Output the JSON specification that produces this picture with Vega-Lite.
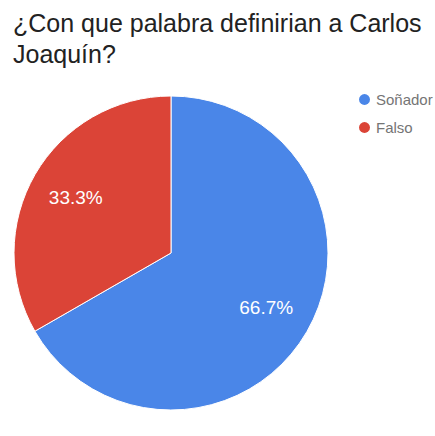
{
  "$schema": "https://vega.github.io/schema/vega-lite/v6.json",
  "autosize": {"type": "none"},
  "width": 314,
  "height": 314,
  "padding": {"left": 14, "top": 96, "right": 107, "bottom": 26},
  "background": "white",
  "title": {
    "text": ["¿Con que palabra definirian a Carlos", "Joaquín?"],
    "anchor": "start",
    "orient": "top",
    "frame": "group",
    "font": "Liberation Sans",
    "fontSize": 25,
    "fontWeight": "normal",
    "color": "#222222",
    "lineHeight": 31,
    "offset": 24,
    "dx": -1
  },
  "data": {
    "values": [
      {"respuesta": "Soñador", "proporcion": 0.667},
      {"respuesta": "Falso", "proporcion": 0.333}
    ]
  },
  "encoding": {
    "theta": {"field": "proporcion", "type": "quantitative", "stack": true},
    "order": {"field": "respuesta", "sort": "descending"},
    "color": {
      "field": "respuesta",
      "type": "nominal",
      "scale": {"domain": ["Soñador", "Falso"], "range": ["#4a86e8", "#db4437"]},
      "legend": {
        "title": null,
        "orient": "none",
        "legendX": 343,
        "legendY": -4,
        "symbolType": "circle",
        "symbolSize": 120,
        "symbolStrokeWidth": 0,
        "labelFont": "Liberation Sans",
        "labelFontSize": 15,
        "labelColor": "#757575",
        "rowPadding": 12,
        "labelOffset": 4
      }
    }
  },
  "layer": [
    {"mark": {"type": "arc", "stroke": "white", "strokeWidth": 1}},
    {
      "mark": {"type": "text", "radius": 110, "font": "Liberation Sans", "fontSize": 19},
      "encoding": {
        "text": {"field": "proporcion", "type": "quantitative", "format": ".1%"},
        "color": {"value": "white"}
      }
    }
  ],
  "config": {"view": {"stroke": null}}
}
